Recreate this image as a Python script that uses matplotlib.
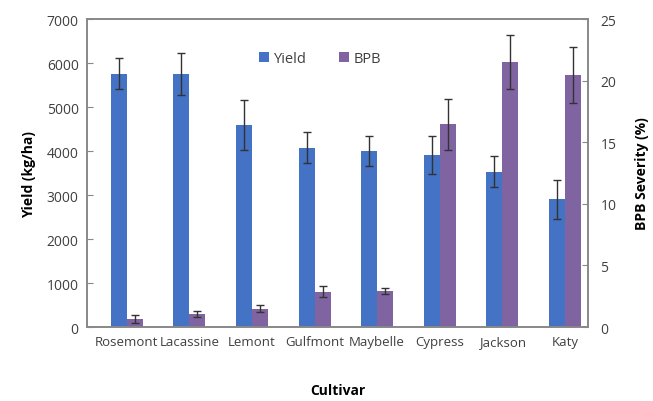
import matplotlib
matplotlib.use("Agg")
import matplotlib.pyplot as plt
import numpy as np

cultivars = ["Rosemont", "Lacassine", "Lemont", "Gulfmont", "Maybelle", "Cypress", "Jackson", "Katy"]
yield_mean = [5760, 5760, 4590, 4080, 4000, 3920, 3530, 2900]
yield_err = [350, 480, 570, 360, 340, 430, 350, 450]
bpb_mean = [0.65, 1.05, 1.5, 2.87, 2.95, 16.45, 21.5, 20.45]
bpb_err = [0.3, 0.25, 0.3, 0.45, 0.25, 2.05, 2.2, 2.3]

plt.rcParams['font.family'] = ['Open Sans', 'DejaVu Sans']
blue = "#4472C4"
purple = "#8064A2"
gray = "#888888"
tcol = "#404040"

fig = plt.figure(figsize=(6.53, 4.02), dpi=100)
ax = fig.add_axes([0.1332, 0.184, 0.7673, 0.766])
ax2 = ax.twinx()

x = np.arange(len(cultivars))
w = 0.256
ax.bar(x - w/2, yield_mean, w, color=blue, label="Yield", zorder=2,
       yerr=yield_err, error_kw=dict(ecolor="#333333", capsize=3, elinewidth=1, capthick=1))
ax2.bar(x + w/2, bpb_mean, w, color=purple, label="BPB", zorder=2,
        yerr=bpb_err, error_kw=dict(ecolor="#333333", capsize=3, elinewidth=1, capthick=1))

ax.set_xlim(-0.634, 7.367)
ax.set_ylim(0, 7000)
ax2.set_ylim(0, 25)
ax.set_yticks(np.arange(0, 7001, 1000))
ax2.set_yticks(np.arange(0, 26, 5))
ax.set_xticks(x)
ax.set_xticklabels(cultivars)

for a in (ax, ax2):
    for s in a.spines.values():
        s.set_color(gray)
        s.set_linewidth(1.2)
    a.tick_params(axis='y', direction='in', length=4, color=gray, labelsize=10, labelcolor=tcol)
ax.tick_params(axis='x', length=0, labelsize=9.5, labelcolor=tcol, pad=6)
ax.tick_params(axis='y', pad=6)
ax2.tick_params(axis='y', pad=9)

ax.set_ylabel("Yield (kg/ha)", fontsize=10, fontweight='bold', labelpad=8)
ax2.set_ylabel("BPB Severity (%)", fontsize=10, fontweight='bold', labelpad=13)
ax.set_xlabel("Cultivar", fontsize=10, fontweight='bold', labelpad=25)

h1, l1 = ax.get_legend_handles_labels()
h2, l2 = ax2.get_legend_handles_labels()
fig.legend(h1 + h2, l1 + l2, loc='center', bbox_to_anchor=(0.49, 0.851), ncol=2,
           frameon=False, fontsize=10.5, handlelength=0.7, handleheight=0.7,
           handletextpad=0.3, columnspacing=2.2, labelcolor=tcol)

fig.savefig("out.png", dpi=100)
